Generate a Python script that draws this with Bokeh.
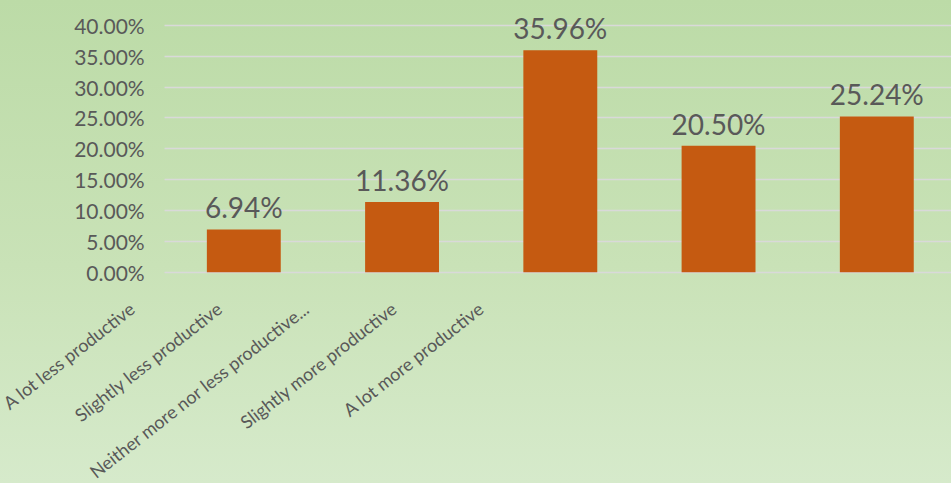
from bokeh.plotting import figure
from bokeh.models import (ColumnDataSource, Range1d, FixedTicker,
                          NumeralTickFormatter)
from bokeh.core.properties import value
from bokeh.embed import file_html
from bokeh.resources import INLINE
import math

# ---- data ----
categories = ["A lot less productive", "Slightly less productive",
              "Neither more nor less productive...", "Slightly more productive",
              "A lot more productive"]
shares = [0.0694, 0.1136, 0.3596, 0.2050, 0.2524]
y_ticks = [0.0, 0.05, 0.10, 0.15, 0.20, 0.25, 0.30, 0.35, 0.40]

TEXT = "#595959"
BAR = "#c55a11"
FONT = "Lato"

idx = list(range(len(categories)))
src = ColumnDataSource(dict(
    x=idx, y=shares, base=[0] * len(idx), cat=categories,
    label=[f"{v * 100:.2f}%" for v in shares],
))

X0, X1 = -1.5375, 4.472          # category scale over the whole canvas
p = figure(width=951, height=483, output_backend="svg", toolbar_location=None,
           x_range=Range1d(X0, X1), y_range=Range1d(-0.34246, 0.44036),
           min_border_left=0, min_border_right=0, min_border_top=0,
           min_border_bottom=0, outline_line_color=None)

p.background_fill_alpha = 0
p.border_fill_alpha = 0
p.styles = {"background": "linear-gradient(180deg, #bcdba7 0%, #c9e2b7 55%, #d6eacb 100%)"}

# plot-area edge: half a category before the first bar
AREA_LEFT = -0.5

p.vbar(x="x", top="y", bottom=0, width=0.467, source=src,
       fill_color=BAR, line_color=None)

p.text(x="x", y="y", text="label", source=src, text_align="center",
       text_baseline="alphabetic", y_offset=-22,
       text_font=value(FONT), text_font_size="28px", text_color=TEXT)

# y axis drawn at the plot-area edge
yax = p.yaxis[0]
yax.fixed_location = AREA_LEFT
yax.ticker = FixedTicker(ticks=y_ticks)
yax.formatter = NumeralTickFormatter(format="0.00%")
yax.axis_line_color = None
yax.major_tick_line_color = None
yax.minor_tick_line_color = None
yax.major_tick_out = 0
yax.major_tick_in = 0
yax.major_label_text_font = FONT
yax.major_label_text_font_size = "21px"
yax.major_label_text_color = TEXT
yax.major_label_standoff = 20

p.ygrid.ticker = FixedTicker(ticks=y_ticks)
p.ygrid.cross_bounds = (AREA_LEFT, X1)
p.ygrid.grid_line_color = "#d9d9d9"
p.ygrid.grid_line_width = 1.5
p.xgrid.grid_line_color = None
p.xaxis.visible = False

# category labels, on a label scale of their own (as in the source picture)
p.extra_x_ranges = {"lbl": Range1d(-1.434, -1.434 + 951 / 87.2)}
p.text(x="x", y="base", text="cat", source=src, x_range_name="lbl",
       angle=math.radians(38), text_align="right", text_baseline="top",
       y_offset=25, text_font=value(FONT), text_font_size="18px",
       text_color=TEXT)

open("out.html", "w").write(file_html(p, INLINE))
